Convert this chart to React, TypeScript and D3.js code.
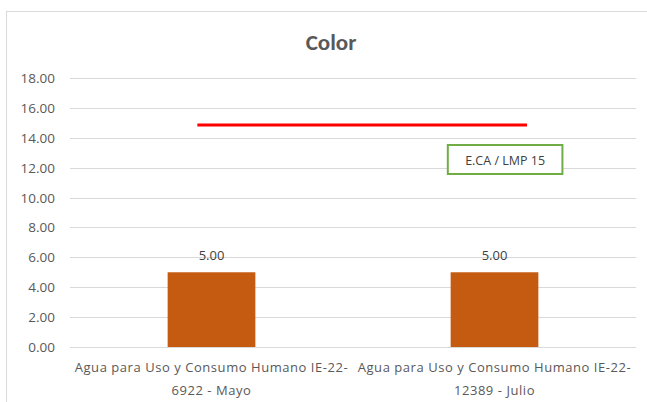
import React from "react";
import * as d3 from "d3";

const categories: string[][] = [
  ["Agua para Uso y Consumo Humano IE-22-", "6922 - Mayo"],
  ["Agua para Uso y Consumo Humano IE-22-", "12389 - Julio"],
];
const values: number[] = [5.0, 5.0];
const yTicks: number[] = [0, 2, 4, 6, 8, 10, 12, 14, 16, 18];
const limitValue = 14.85;
const limitLabel = "E.CA / LMP 15";
const title = "Color";

const W = 647;
const H = 402;
const font = "Calibri, Carlito, Lato, sans-serif";
const wide = "'Open Sans', sans-serif";

export default function App() {
  const left = 70, right = 636, top = 78, bottom = 347;
  const x = d3.scaleBand<number>().domain(values.map((_, i) => i)).range([left, right]).paddingInner(0.69).paddingOuter(0.345);
  const band = d3.scaleBand<number>().domain(values.map((_, i) => i)).range([left, right]);
  const y = d3.scaleLinear().domain([0, 18]).range([bottom, top]);
  const bw = band.bandwidth();
  const lx1 = (band(0) as number) + bw * 0.45;
  const lx2 = (band(1) as number) + bw * 0.615;
  const bx1 = (band(1) as number) + bw * 0.335;
  const bx2 = (band(1) as number) + bw * 0.74;
  return (
    <svg width={W} height={H} style={{ position: "absolute", left: 0, top: 0, background: "#fff" }}>
      <rect x={6.5} y={11.5} width={W} height={H} fill="#fff" stroke="#d9d9d9" />
      <text x={331} y={50} textAnchor="middle" fontFamily={font} fontSize={23} fontWeight="bold" fill="#595959">{title}</text>
      {yTicks.map((t) => (
        <g key={t}>
          <line x1={left} x2={right} y1={Math.round(y(t)) + 0.5} y2={Math.round(y(t)) + 0.5} stroke="#d9d9d9" />
          <text x={55} y={y(t) + 5} textAnchor="end" fontFamily={wide} fontSize={13.5} fill="#595959">{t.toFixed(2)}</text>
        </g>
      ))}
      {values.map((v, i) => (
        <g key={i}>
          <rect x={x(i)} y={y(v)} width={x.bandwidth()} height={y(0) - y(v)} fill="#c55a11" />
          <text x={(x(i) as number) + x.bandwidth() / 2} y={y(v) - 12} textAnchor="middle" fontFamily={wide} fontSize={13} fill="#404040">{v.toFixed(2)}</text>
          {categories[i].map((line, j) => (
            <text key={j} x={(band(i) as number) + bw / 2} y={372 + j * 23} textAnchor="middle" fontFamily={wide} fontSize={13} letterSpacing={0.55} fill="#595959">{line}</text>
          ))}
        </g>
      ))}
      <line x1={lx1} x2={lx2} y1={y(limitValue)} y2={y(limitValue)} stroke="#ff0000" strokeWidth={3} />
      <rect x={bx1} y={145} width={bx2 - bx1} height={29} fill="#fff" stroke="#70ad47" strokeWidth={2} />
      <text x={(bx1 + bx2) / 2} y={164.5} textAnchor="middle" fontFamily={wide} fontSize={12.5} fill="#404040">{limitLabel}</text>
    </svg>
  );
}
